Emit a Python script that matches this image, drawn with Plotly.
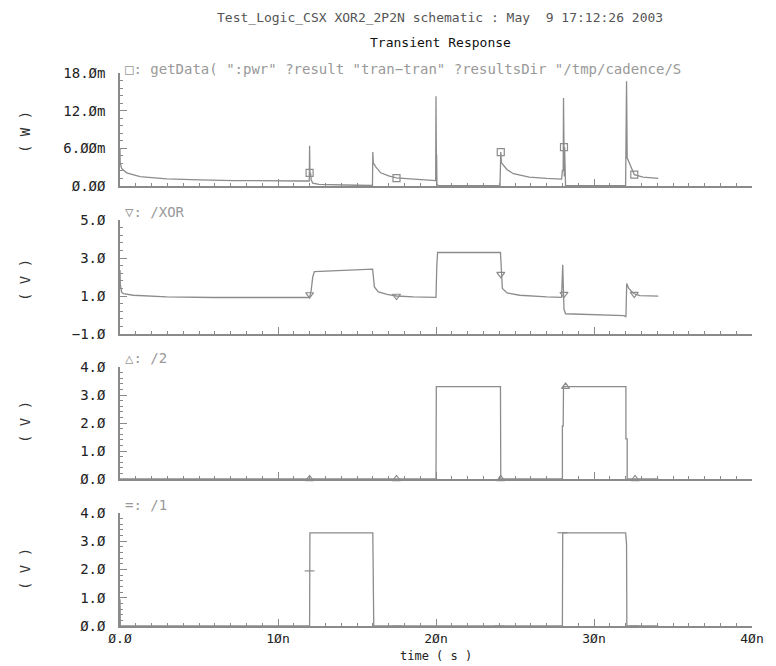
import plotly.graph_objects as go

# ---------------- data (time in ns) ----------------
t_pwr = [0.0, 0.01, 0.1, 0.42, 1.27, 2.95, 5.06, 7.2, 11.4, 11.98,
         12.0, 12.02, 12.04, 12.06, 12.1, 12.2, 12.6, 13.5, 15.0, 15.98,
         16.0, 16.03, 16.2, 16.5, 17.0, 17.5, 18.6, 19.98,
         20.0, 20.01, 20.02, 20.03, 20.04, 20.06, 20.15, 24.05,
         24.1, 24.14, 24.5, 24.9, 25.9, 27.0, 27.95,
         28.0, 28.05, 28.07, 28.09, 28.1, 28.12, 28.14, 28.16, 28.2, 32.0,
         32.06, 32.1, 32.3, 32.55, 33.1, 34.07]
pwr_mW = [5.9, 3.7, 2.8, 2.1, 1.5, 1.14, 0.98, 0.87, 0.8, 0.8,
          6.4, 2.0, 6.0, 2.1, 1.0, 0.45, 0.25, 0.16, 0.12, 0.1,
          5.4, 3.7, 3.0, 2.1, 1.6, 1.3, 1.09, 0.87,
          14.3, 1.5, 6.2, 1.0, 5.0, 0.3, 0.05, 0.05,
          5.4, 3.7, 2.6, 1.96, 1.4, 1.2, 1.1,
          2.5, 2.5, 14.0, 2.0, 7.8, 1.5, 6.2, 2.5, 0.05, 0.05,
          16.7, 4.5, 3.15, 1.8, 1.42, 1.2]

t_xor = [0.0, 0.02, 0.1, 0.21, 0.84, 2.95, 5.9, 11.4, 12.0, 12.1, 12.2, 12.3,
         13.5, 15.8, 15.99, 16.1, 16.35, 16.9, 17.5, 18.56, 20.0, 20.05, 20.1,
         24.08, 24.12, 24.2, 24.5, 25.3, 27.0, 27.95, 28.02, 28.06, 28.1, 28.2,
         29.0, 31.9, 32.02, 32.07, 32.2, 32.5, 32.9, 34.07]
v_xor = [2.37, 1.6, 1.2, 1.13, 1.04, 0.95, 0.92, 0.92, 0.92, 1.3, 2.0, 2.28,
         2.33, 2.41, 2.41, 1.48, 1.22, 1.08, 1.0, 0.95, 0.93, 2.55, 3.29,
         3.3, 2.28, 1.4, 1.16, 1.04, 0.95, 0.93, 2.64, 1.0, 0.3, 0.065,
         0.04, -0.03, -0.1, 1.66, 1.4, 1.13, 1.02, 0.99]

t_in2 = [0.0, 20.0, 20.02, 24.08, 24.1, 28.0, 28.0, 28.05, 28.07, 32.02, 32.02, 32.1, 32.1, 34.07]
v_in2 = [0.0, 0.0, 3.3, 3.3, 0.0, 0.0, 1.9, 1.9, 3.3, 3.3, 1.43, 1.43, 0.0, 0.0]

t_in1 = [0.0, 0.02, 12.0, 12.02, 16.0, 16.02, 16.05, 16.06, 28.0, 28.02, 32.0, 32.02, 32.06, 32.08, 34.07]
v_in1 = [0.95, 0.0, 0.0, 3.3, 3.3, 1.9, 1.9, 0.0, 0.0, 3.3, 3.3, 2.9, 2.9, 0.0, 0.0]

# marker positions
mk_pwr_t = [12.0, 17.5, 24.1, 28.1, 32.55]
mk_pwr_v = [2.1, 1.25, 5.4, 6.2, 1.8]
mk_xor_t = [12.0, 17.5, 24.1, 28.1, 32.55]
mk_xor_v = [1.08, 1.0, 2.15, 1.1, 1.1]
mk_in2_t = [12.0, 17.5, 24.1, 28.2, 32.6]
mk_in2_v = [0.0, 0.0, 0.0, 3.3, 0.0]
mk_in1_t = [12.0, 17.5, 24.0, 28.0, 32.5]
mk_in1_v = [1.95, 0.0, 0.0, 3.3, 0.0]

# tick labels
x_tickvals = [0, 10, 20, 30, 40]
x_ticktext = ["Ø.Ø", "1Øn", "2Øn", "3Øn", "4Øn"]
pwr_tickvals = [0, 6, 12, 18]
pwr_ticktext = ["Ø.ØØ", "6.ØØm", "12.Øm", "18.Øm"]
xor_tickvals = [-1, 1, 3, 5]
xor_ticktext = ["−1.Ø", "1.Ø", "3.Ø", "5.Ø"]
in_tickvals = [0, 1, 2, 3, 4]
in_ticktext = ["Ø.Ø", "1.Ø", "2.Ø", "3.Ø", "4.Ø"]

title_main = "Test_Logic_CSX XOR2_2P2N schematic : May  9 17:12:26 2003"
title_sub = "Transient Response"
labels = ['□: getData( ":pwr" ?result "tran−tran" ?resultsDir "/tmp/cadence/S',
          "▽: /XOR", "△: /2", "=: /1"]
units = ["( W )", "( V )", "( V )", "( V )"]

# ---------------- figure ----------------
LINE = "#8c8c8c"
AX = "#8a8a8a"
FONT = "DejaVu Sans"
MONO = "DejaVu Sans Mono"

W, H = 776, 666
ML, MR, MT, MB = 120, 24, 73, 40
PH = H - MT - MB
PW = W - ML - MR


def py(px):
    return (H - MB - px) / PH


def pxx(px):
    return (px - ML) / PW


domains = [[py(186), 1.0], [py(334), py(220)], [py(479), py(367)], [0.0, py(513)]]

series = [(t_pwr, pwr_mW, mk_pwr_t, mk_pwr_v, "square-open"),
          (t_xor, v_xor, mk_xor_t, mk_xor_v, "triangle-down-open"),
          (t_in2, v_in2, mk_in2_t, mk_in2_v, "triangle-up-open"),
          (t_in1, v_in1, mk_in1_t, mk_in1_v, "line-ew-open")]

fig = go.Figure()
for i, (tx, vy, mt, mv, sym) in enumerate(series):
    xa = "x" if i == 0 else f"x{i+1}"
    ya = "y" if i == 0 else f"y{i+1}"
    fig.add_trace(go.Scatter(x=tx, y=vy, mode="lines", xaxis=xa, yaxis=ya,
                             line=dict(color=LINE, width=1.3), showlegend=False,
                             cliponaxis=False))
    fig.add_trace(go.Scatter(x=mt, y=mv, mode="markers", xaxis=xa, yaxis=ya,
                             marker=dict(symbol=sym, size=7, color=LINE,
                                         line=dict(color=LINE, width=1.2)),
                             showlegend=False, cliponaxis=False))

yconf = [
    dict(range=[0, 18], tickvals=pwr_tickvals, ticktext=pwr_ticktext, mdt=1.2),
    dict(range=[-1, 5], tickvals=xor_tickvals, ticktext=xor_ticktext, mdt=0.4),
    dict(range=[0, 4], tickvals=in_tickvals, ticktext=in_ticktext, mdt=0.2),
    dict(range=[0, 4], tickvals=in_tickvals, ticktext=in_ticktext, mdt=0.2),
]

layout = dict(width=W, height=H, margin=dict(l=ML, r=MR, t=MT, b=MB),
              paper_bgcolor="white", plot_bgcolor="white",
              font=dict(family=FONT, size=12, color="#222"))

for i in range(4):
    xk = "xaxis" if i == 0 else f"xaxis{i+1}"
    yk = "yaxis" if i == 0 else f"yaxis{i+1}"
    ya = "y" if i == 0 else f"y{i+1}"
    xa = "x" if i == 0 else f"x{i+1}"
    layout[xk] = dict(domain=[0, 1], anchor=ya, range=[0, 40],
                      showline=True, linecolor=AX, linewidth=1.5,
                      ticks="inside", ticklen=7, tickwidth=1.2, tickcolor=AX,
                      tickvals=x_tickvals, ticktext=x_ticktext,
                      showticklabels=(i == 3), showgrid=False, zeroline=False,
                      ticklabelstandoff=0,
                      tickfont=dict(family=MONO, size=13, color="#222"),
                      minor=dict(dtick=1, ticks="inside", ticklen=3, tickcolor=AX, tickwidth=1),
                      fixedrange=True)
    if i > 0:
        layout[xk]["matches"] = "x"
    c = yconf[i]
    layout[yk] = dict(domain=domains[i], anchor=xa, range=c["range"],
                      showline=True, linecolor=AX, linewidth=1.5,
                      ticks="inside", ticklen=7, tickwidth=1.2, tickcolor=AX,
                      tickvals=c["tickvals"], ticktext=c["ticktext"],
                      showgrid=False, zeroline=False, ticklabelstandoff=10,
                      tickfont=dict(family=MONO, size=14, color="#222"),
                      minor=dict(tick0=c["range"][0], dtick=c["mdt"], ticks="inside",
                                 ticklen=3, tickcolor=AX, tickwidth=1),
                      fixedrange=True)

annotations = [
    dict(text=title_main, xref="paper", yref="paper", x=pxx(440), y=py(18),
         showarrow=False, font=dict(family=MONO, size=13, color="#555"),
         xanchor="center", yanchor="middle"),
    dict(text=title_sub, xref="paper", yref="paper", x=pxx(440), y=py(42),
         showarrow=False, font=dict(family=MONO, size=13, color="#111"),
         xanchor="center", yanchor="middle"),
    dict(text="time ( s )", xref="paper", yref="paper", x=pxx(436), y=py(656),
         showarrow=False, font=dict(family=MONO, size=12, color="#222"),
         xanchor="center", yanchor="middle"),
]
lab_y = [69, 212, 358, 505]
unit_y = [132, 280, 422, 569]
for i in range(4):
    annotations.append(dict(text=labels[i], xref="paper", yref="paper",
                            x=pxx(123), y=py(lab_y[i]), showarrow=False,
                            xanchor="left", yanchor="middle",
                            font=dict(family=MONO, size=14, color="#999")))
    annotations.append(dict(text=units[i], xref="paper", yref="paper",
                            x=pxx(25), y=py(unit_y[i]), showarrow=False,
                            xanchor="center", yanchor="middle", textangle=-90,
                            font=dict(family=MONO, size=14, color="#333")))
layout["annotations"] = annotations

fig.update_layout(**layout)
fig.write_html("out.html", config={"displayModeBar": False},
               post_script="document.body.style.margin='0';document.body.style.overflow='hidden';")
